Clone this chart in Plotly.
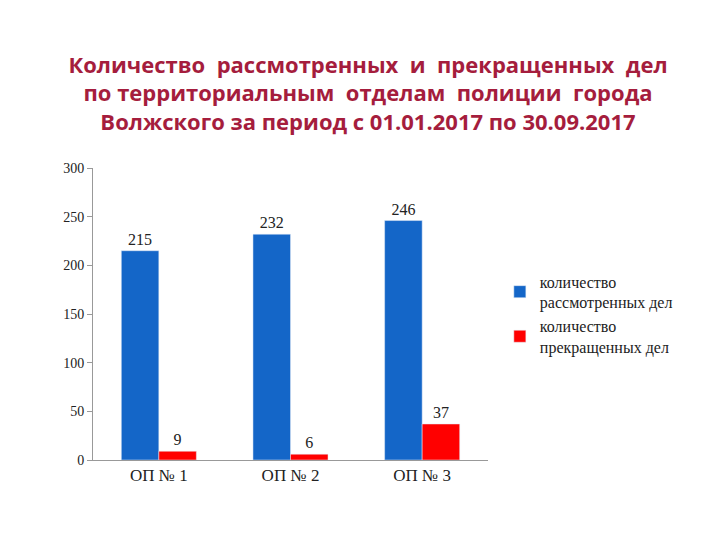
import plotly.graph_objects as go

categories = ["ОП № 1", "ОП № 2", "ОП № 3"]
reviewed = [215, 232, 246]
stopped = [9, 6, 37]

serif = "Liberation Serif"

fig = go.Figure()
fig.add_bar(name="количество<br>рассмотренных дел", x=categories, y=reviewed,
            marker_color="#1466c8", text=reviewed, textposition="outside",
            textfont=dict(family=serif, size=16, color="#222"))
fig.add_bar(name="количество<br>прекращенных дел", x=categories, y=stopped,
            marker_color="#ff0000", text=stopped, textposition="outside",
            textfont=dict(family=serif, size=16, color="#222"))

fig.update_layout(
    width=720, height=540,
    paper_bgcolor="white", plot_bgcolor="white",
    barmode="group", bargap=0.43, bargroupgap=0,
    margin=dict(l=85, r=240, t=160, b=88),
    title=dict(
        text="Количество  рассмотренных  и  прекращенных  дел<br>"
             "по территориальным  отделам  полиции  города<br>"
             "Волжского за период с 01.01.2017 по 30.09.2017",
        x=0.5, xanchor="center", y=0.88, yanchor="top",
        font=dict(family="Open Sans", size=22, color="#a51d3d", weight="bold")),
    legend=dict(x=1.03, y=0.67, xanchor="left", yanchor="top",
                font=dict(family=serif, size=16, color="#222"),
                itemwidth=30, tracegroupgap=6),
    xaxis=dict(showline=True, linecolor="#999", ticks="",
               tickfont=dict(family=serif, size=17, color="#222")),
    yaxis=dict(range=[0, 300], dtick=50, showline=True, linecolor="#999",
               showgrid=False, ticks="outside", ticklen=5, tickcolor="#999",
               zeroline=False,
               tickfont=dict(family=serif, size=14, color="#222")),
)
fig.update_traces(cliponaxis=False)

fig.write_html("out.html")
